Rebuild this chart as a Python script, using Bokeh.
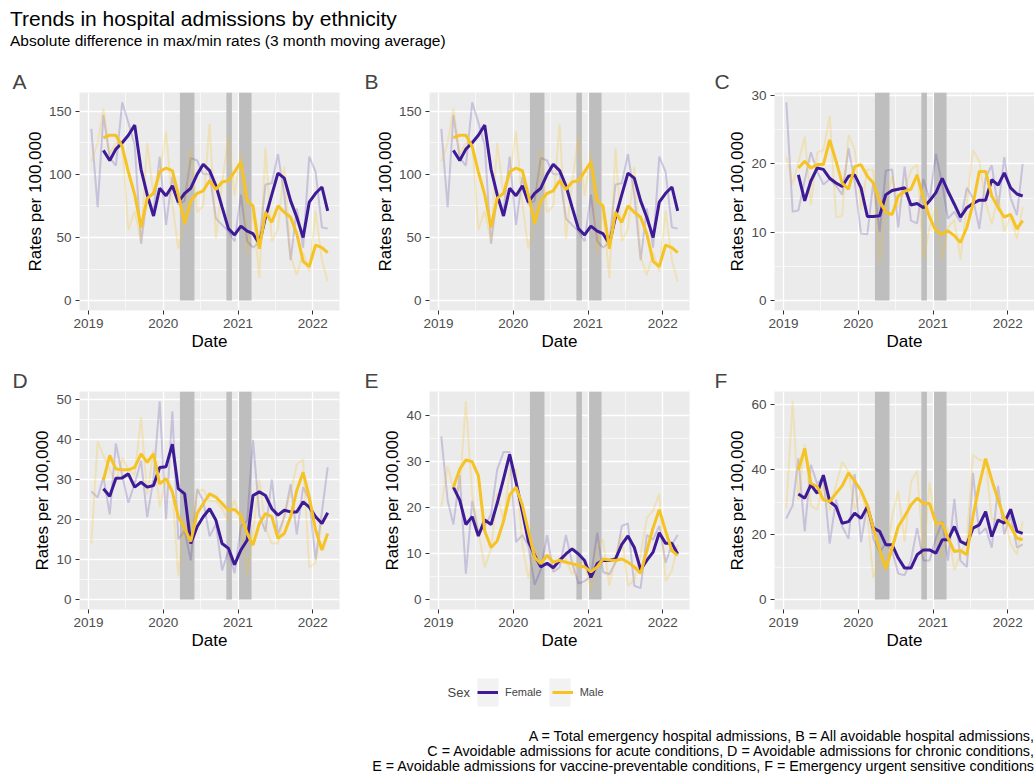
import pandas as pd
from bokeh.plotting import figure
from bokeh.models import Range1d, FixedTicker, DatetimeTickFormatter, Div, Legend, Label, BoxAnnotation
from bokeh.layouts import column, row
from bokeh.embed import file_html
from bokeh.resources import INLINE

# ---------------- data ----------------
months = ["2019-01-15", "2019-02-15", "2019-03-15", "2019-04-15", "2019-05-15", "2019-06-15",
          "2019-07-15", "2019-08-15", "2019-09-15", "2019-10-15", "2019-11-15", "2019-12-15",
          "2020-01-15", "2020-02-15", "2020-03-15", "2020-04-15", "2020-05-15", "2020-06-15",
          "2020-07-15", "2020-08-15", "2020-09-15", "2020-10-15", "2020-11-15", "2020-12-15",
          "2021-01-15", "2021-02-15", "2021-03-15", "2021-04-15", "2021-05-15", "2021-06-15",
          "2021-07-15", "2021-08-15", "2021-09-15", "2021-10-15", "2021-11-15", "2021-12-15",
          "2022-01-15", "2022-02-15", "2022-03-15"]
ma_months = months[2:]

lockdown_start = ["2020-03-23", "2020-11-05", "2021-01-06"]
lockdown_end = ["2020-06-02", "2020-12-02", "2021-03-08"]

year_ticks = ["2019-01-01", "2020-01-01", "2021-01-01", "2022-01-01"]
half_year_ticks = ["2019-07-01", "2020-07-01", "2021-07-01"]

# A: Total emergency hospital admissions
a_female_raw = [136, 74, 147, 113, 107, 157, 141, 123, 45, 84, 71, 114, 60, 98, 76, 79, 113, 111, 100, 100,
                65, 60, 55, 47, 84, 47, 42, 46, 92, 93, 116, 84, 32, 73, 42, 114, 102, 58, 57]
a_male_raw = [110, 125, 152, 116, 125, 125, 56, 71, 47, 125, 83, 98, 134, 77, 41, 65, 120, 70, 75, 140,
              49, 93, 130, 83, 117, 37, 71, 18, 121, 47, 57, 106, 35, 20, 38, 23, 71, 32, 15]
a_female_ma = [119, 111, 120, 125, 131, 139, 104, 84, 67, 89, 83, 91, 78, 85, 89, 100, 108, 103, 91, 74,
               57, 52, 59, 55, 53, 45, 66, 84, 101, 97, 79, 66, 50, 78, 85, 90, 71]
a_male_ma = [129, 131, 131, 122, 102, 84, 58, 81, 85, 102, 105, 103, 84, 61, 79, 85, 87, 95, 88, 94,
             95, 102, 110, 79, 75, 41, 70, 62, 75, 70, 66, 53, 31, 27, 44, 42, 38]

# B: All avoidable hospital admissions
b_female_raw = [136, 74, 147, 113, 107, 157, 141, 123, 45, 84, 71, 114, 60, 98, 76, 79, 113, 111, 100, 100,
                65, 60, 55, 47, 84, 47, 42, 46, 92, 93, 116, 84, 32, 73, 42, 114, 102, 58, 57]
b_male_raw = [110, 125, 152, 116, 125, 125, 56, 71, 47, 125, 83, 98, 134, 77, 41, 65, 120, 70, 75, 140,
              49, 93, 130, 83, 117, 37, 71, 18, 121, 47, 57, 106, 35, 20, 38, 23, 71, 32, 15]
b_female_ma = [119, 111, 120, 125, 131, 139, 104, 84, 67, 89, 83, 91, 78, 85, 89, 100, 108, 103, 91, 74,
               57, 52, 59, 55, 53, 45, 66, 84, 101, 97, 79, 66, 50, 78, 85, 90, 71]
b_male_ma = [129, 131, 131, 122, 102, 84, 58, 81, 85, 102, 105, 103, 84, 61, 79, 85, 87, 95, 88, 94,
             95, 102, 110, 79, 75, 41, 70, 62, 75, 70, 66, 53, 31, 27, 44, 42, 38]

# C: Avoidable admissions for acute conditions
c_female_raw = [29, 13, 13.2, 17.6, 21.7, 18.9, 17, 17.8, 16.8, 15.5, 22.3, 17.4, 9.8, 9.7, 17.4, 10.1,
                19, 19.2, 10.7, 19.6, 11.7, 11.3, 17.8, 14.7, 21.5, 17, 12, 13, 11.5, 16.5, 15, 10.5,
                18, 19.8, 13.5, 21, 15, 12.5, 20]
c_male_raw = [21, 17, 20.2, 24, 14, 21.7, 22, 27, 12.2, 12.4, 24.3, 22.1, 13.3, 19.2, 19.1, 5.5, 14.1,
              18.2, 13.6, 16.2, 19.1, 19.9, 6, 10.7, 13.9, 6, 10.7, 11.8, 6, 14.3, 22, 20.4, 14.3,
              11.2, 15.3, 10.1, 12.4, 9, 13.7]
c_female_ma = [18.4, 14.6, 17.5, 19.4, 19.2, 17.9, 17.2, 16.7, 18.2, 18.4, 16.5, 12.3, 12.3, 12.4, 15.5,
               16.1, 16.3, 16.5, 14.0, 14.2, 13.6, 14.6, 15.8, 17.9, 16.0, 14.1, 12.2, 13.6, 14.2,
               14.7, 14.7, 17.7, 16.9, 18.7, 16.5, 15.6, 15.3]
c_male_ma = [19.4, 20.4, 19.4, 19.9, 19.9, 23.5, 20.4, 17.2, 16.3, 19.6, 19.9, 18.2, 17.2, 14.6, 12.9,
             12.6, 15.3, 16.0, 16.3, 18.4, 15.0, 12.2, 10.2, 9.7, 10.2, 9.5, 8.5, 10.7, 14.1, 18.9,
             18.9, 15.3, 13.6, 12.2, 12.6, 10.5, 11.7]

# D: Avoidable admissions for chronic conditions
d_female_raw = [27, 25.5, 30.6, 21.3, 39, 31, 24.2, 29, 34.7, 20.6, 30.2, 49.5, 20, 47, 15, 17.2, 9.8,
                27.6, 24.7, 15.8, 18.9, 7.3, 12.2, 6.6, 18.4, 19.7, 39.9, 21.1, 17, 30, 16.3, 20.6,
                28.8, 16.3, 28.1, 24.9, 10, 22, 33]
d_male_raw = [14, 39.5, 36, 32.5, 29.3, 35.4, 32.5, 31.1, 45.6, 26.2, 37.4, 23.1, 30.1, 27.5, 6, 20,
              17.5, 27, 27.5, 24.7, 24.6, 22.7, 19.6, 25.2, 18.2, 6.1, 16.5, 30, 18, 14, 14, 21.5,
              26.6, 33.8, 35, 8, 9.2, 20, 20.3]
d_female_ma = [27.7, 25.8, 30.3, 30.4, 31.4, 28.1, 29.3, 28.1, 28.5, 33, 33.2, 38.8, 27.7, 26.4, 14,
               18.2, 20.7, 22.7, 19.8, 14, 12.8, 8.7, 12.4, 14.9, 26, 26.9, 26, 22.7, 21.1, 22.3,
               21.9, 21.9, 24.4, 23.1, 20.7, 19, 21.7]
d_male_ma = [29.8, 36, 32.6, 32.4, 32.4, 33, 36.4, 34.3, 36.4, 28.9, 30.2, 26.9, 20.7, 17.8, 14.5,
             21.5, 24, 26.4, 25.6, 24, 22.3, 22.5, 21, 16.5, 13.6, 19, 21.5, 20.7, 15.3, 16.5, 20.7,
             27.3, 31.8, 25.6, 17.4, 12.4, 16.5]

# E: Avoidable admissions for vaccine-preventable conditions
e_female_raw = [35.4, 21.5, 16.3, 27, 5.6, 21.4, 14.4, 16.1, 18.4, 28.2, 32, 32, 12.5, 14, 11.6, 3.2,
                6.5, 14, 6, 7, 14, 8, 3.5, 4, 5, 14.5, 6, 5.5, 8, 16, 16.5, 3, 2.5, 14, 13, 16, 8,
                12, 14]
e_male_raw = [20, 29, 24, 24, 43, 22.7, 15, 7, 11, 23, 17, 28, 28.2, 12, 4.5, 11, 8, 10, 6.3, 9.2, 8.8,
              5.4, 8, 8, 2, 11.3, 13, 3, 9.5, 14, 3, 4.3, 9.8, 17.7, 19.3, 23, 4, 6.3, 12]
e_female_ma = [24.4, 21.6, 16.3, 18, 13.8, 17.3, 16.3, 20.9, 26.2, 31.5, 25.5, 19.1, 12.7, 9.6, 7.1,
               7.9, 6.9, 8.5, 9.9, 11, 9.9, 8.5, 4.8, 7.8, 8.5, 8.5, 8.8, 12, 13.8, 11.3, 6.5, 8.5,
               10.3, 14.5, 12.2, 12.2, 9.9]
e_male_ma = [24.4, 28.3, 30.3, 29.9, 26.9, 14.9, 11.3, 12.7, 17, 22.7, 24.4, 20.5, 14.9, 9.2, 7.8,
             9.6, 8.1, 8.5, 8.1, 7.8, 7.4, 7.1, 6, 7.1, 8.8, 8.6, 8.5, 8.8, 8.1, 7.1, 5.7, 10.6,
             15.6, 19.5, 14.9, 10.6, 9.6]

# F: Emergency urgent sensitive conditions
f_female_raw = [25, 29, 43.5, 21, 41.5, 35.6, 37.8, 17.2, 30.8, 22.5, 18.7, 38.6, 17.7, 29.5, 18.8,
                14.7, 17.2, 15, 8, 7.5, 12, 22, 12, 12, 19, 24, 12, 31, 12, 10, 39, 20, 22, 16, 35,
                20, 26, 16, 17]
f_male_raw = [28, 61, 30.7, 47.8, 28.9, 27.7, 35.5, 27.4, 35.2, 42.4, 39.4, 27.7, 33.4, 25.9, 6.7,
              13.3, 8.5, 25.6, 33.4, 17.8, 36.1, 39.7, 13, 36.1, 21.4, 13, 22.3, 9.1, 13.9, 18.4,
              44.5, 43, 42.7, 24.7, 24.7, 25.6, 17.2, 13.9, 24.1]
f_female_ma = [32.5, 31.2, 35.3, 32.7, 38.3, 30.2, 28.6, 23.5, 24, 26.6, 25, 28.6, 22, 21, 16.9, 16.9,
               12.8, 9.7, 9.7, 13.8, 15.3, 15.3, 14.3, 18.4, 18.4, 22.5, 17.9, 16.9, 22, 23, 27.1,
               19.4, 24.5, 23.5, 27.8, 21, 20.4]
f_male_ma = [39.9, 46.5, 35.8, 34.8, 30.7, 30.2, 32.7, 35, 39, 36.5, 33.5, 29, 22, 15.3, 9.5, 15.8,
             22.5, 25.6, 29.1, 31.2, 29.6, 29.6, 23.5, 23.5, 18.9, 14.8, 15.1, 13.8, 25.6, 35.3,
             43.4, 36.8, 30.7, 25, 22.5, 18.9, 18.4]

y_major = {"A": [0, 50, 100, 150], "B": [0, 50, 100, 150], "C": [0, 10, 20, 30],
           "D": [0, 10, 20, 30, 40, 50], "E": [0, 10, 20, 30, 40], "F": [0, 20, 40, 60]}
y_minor = {"A": [25, 75, 125], "B": [25, 75, 125], "C": [5, 15, 25],
           "D": [5, 15, 25, 35, 45], "E": [5, 15, 25, 35], "F": [10, 30, 50]}

sex_labels = ["Female", "Male"]
legend_title = "Sex"
caption_lines = [
    "A = Total emergency hospital admissions, B = All avoidable hospital admissions,",
    "C = Avoidable admissions for acute conditions, D = Avoidable admissions for chronic conditions,",
    "E = Avoidable admissions for vaccine-preventable conditions, F = Emergency urgent sensitive conditions",
]

# ---------------- styling ----------------
FONT = "Liberation Sans"
PURPLE = "#3E1A96"
GOLD = "#F6C324"
BG = "#EBEBEB"


def ms(s):
    return pd.Timestamp(s).value / 1e6


dates = pd.to_datetime(months)
ma_dates = pd.to_datetime(ma_months)
x_lo = ms(months[0])
x_hi = ms(months[-1])
x_pad = 0.05 * (x_hi - x_lo)

col_width = [348, 345, 341]
col_left = [79, 81, 81]
col_right = [9, 4, 0]
tag_offset = [-67, -65, -60]
ROW_H = 299


def make_panel(tag, col, fr, mr, fm, mm):
    hi = max(max(fr), max(mr), max(fm), max(mm))
    pad = 0.05 * hi
    p = figure(width=col_width[col], height=ROW_H, x_axis_type="datetime",
               x_range=Range1d(x_lo - x_pad, x_hi + x_pad),
               y_range=Range1d(-pad, hi + pad),
               toolbar_location=None, output_backend="svg",
               min_border_left=col_left[col], min_border_right=col_right[col],
               min_border_top=34, min_border_bottom=47,
               background_fill_color=BG, border_fill_color="white", outline_line_color=None)
    p.title.text = tag
    p.title.text_font = FONT
    p.title.text_font_size = "21px"
    p.title.text_font_style = "normal"
    p.title.align = "left"
    p.title.offset = tag_offset[col]
    p.title.standoff = 0

    p.xaxis.ticker = FixedTicker(ticks=[ms(t) for t in year_ticks],
                                 minor_ticks=[ms(t) for t in half_year_ticks])
    p.xaxis.formatter = DatetimeTickFormatter(years="%Y", months="%Y", days="%Y", hours="%Y")
    p.yaxis.ticker = FixedTicker(ticks=y_major[tag], minor_ticks=y_minor[tag])
    p.xaxis.axis_label = "Date"
    p.yaxis.axis_label = "Rates per 100,000"
    for ax in (p.xaxis, p.yaxis):
        ax.axis_line_color = None
        ax.major_tick_line_color = "#333333"
        ax.major_tick_in = 0
        ax.major_tick_out = 4
        ax.minor_tick_line_color = None
        ax.major_label_standoff = 4
        ax.axis_label_standoff = 1
        ax.major_label_text_font = FONT
        ax.major_label_text_font_size = "13.5px"
        ax.major_label_text_color = "#4D4D4D"
        ax.axis_label_text_font = FONT
        ax.axis_label_text_font_size = "17px"
        ax.axis_label_text_font_style = "normal"
        ax.axis_label_text_color = "black"
    for g in (p.xgrid, p.ygrid):
        g.grid_line_color = "white"
        g.grid_line_width = 1.3
        g.minor_grid_line_color = "white"
        g.minor_grid_line_width = 0.6

    p.quad(left=pd.to_datetime(lockdown_start), right=pd.to_datetime(lockdown_end),
           bottom=0, top=hi + pad, fill_color="#BEBEBE", line_color=None)
    p.line(dates, fr, line_color=PURPLE, line_width=2, line_alpha=0.2)
    p.line(dates, mr, line_color=GOLD, line_width=2, line_alpha=0.25)
    p.line(ma_dates, fm, line_color=PURPLE, line_width=3)
    p.line(ma_dates, mm, line_color=GOLD, line_width=3)
    return p


pA = make_panel("A", 0, a_female_raw, a_male_raw, a_female_ma, a_male_ma)
pB = make_panel("B", 1, b_female_raw, b_male_raw, b_female_ma, b_male_ma)
pC = make_panel("C", 2, c_female_raw, c_male_raw, c_female_ma, c_male_ma)
pD = make_panel("D", 0, d_female_raw, d_male_raw, d_female_ma, d_male_ma)
pE = make_panel("E", 1, e_female_raw, e_male_raw, e_female_ma, e_male_ma)
pF = make_panel("F", 2, f_female_raw, f_male_raw, f_female_ma, f_male_ma)

# legend strip (the lines below lie outside its 0..1 ranges; only their legend keys show)
LEG_H = 68
KEY_X = [477, 549]
pl = figure(width=1034, height=LEG_H, toolbar_location=None, output_backend="svg",
            x_axis_type=None, y_axis_type=None, outline_line_color=None,
            min_border=0, x_range=Range1d(0, 1), y_range=Range1d(0, 1))
pl.grid.visible = False
for kx in KEY_X:
    pl.add_layout(BoxAnnotation(left=kx, right=kx + 21, bottom=LEG_H - 50, top=LEG_H - 22,
                                left_units="screen", right_units="screen",
                                bottom_units="screen", top_units="screen",
                                fill_color="#F2F2F2", fill_alpha=1, line_color=None,
                                level="underlay"))
rf = pl.line(ma_dates, a_female_ma, line_color=PURPLE, line_width=3)
rm = pl.line(ma_dates, a_male_ma, line_color=GOLD, line_width=3)
leg = Legend(items=[(sex_labels[0], [rf]), (sex_labels[1], [rm])], orientation="horizontal",
             location=(KEY_X[0], LEG_H - 36 - 10))
leg.label_text_font = FONT
leg.label_text_font_size = "11px"
leg.glyph_width = 21
leg.glyph_height = 20
leg.label_standoff = 7
leg.spacing = 10
leg.padding = 0
leg.margin = 0
leg.border_line_color = None
leg.background_fill_alpha = 0
pl.add_layout(leg, "center")
pl.add_layout(Label(x=447, y=LEG_H - 36, x_units="screen", y_units="screen", text=legend_title,
                    text_font=FONT, text_font_size="13px", text_baseline="middle",
                    text_align="left"))

title_div = Div(text=(
    f"<div style=\"font-family:'{FONT}';font-size:21px;line-height:25px;color:#000;"
    "padding-left:10px;padding-top:6px\">"
    "Trends in hospital admissions by ethnicity</div>"
    f"<div style=\"font-family:'{FONT}';font-size:15.5px;line-height:20px;color:#000;padding-left:10px\">"
    "Absolute difference in max/min rates (3 month moving average)</div>"),
    width=1034, height=58, margin=(0, 0, 0, 0))

caption_div = Div(text=(
    f"<div style=\"font-family:'{FONT}';font-size:14.3px;line-height:15px;color:#000;"
    f"text-align:right;width:1034px;padding-top:5px\">" + "<br>".join(caption_lines) + "</div>"),
    width=1034, height=50, margin=(0, 0, 0, 0))

layout = column(title_div,
                row(pA, pB, pC),
                row(pD, pE, pF),
                pl,
                caption_div)

open("out.html", "w").write(file_html(layout, INLINE))
